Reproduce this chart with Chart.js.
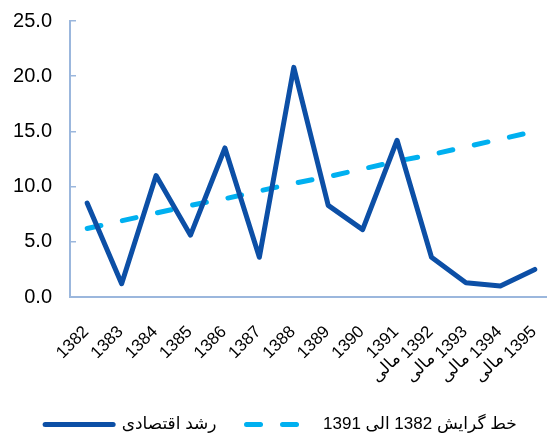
<!DOCTYPE html>
<html>
<head>
<meta charset="utf-8">
<script src="https://cdn.jsdelivr.net/npm/chart.js@4"></script>
<style>
  html, body { margin: 0; padding: 0; background: #fff; }
  #wrap { width: 547px; height: 435px; }
</style>
</head>
<body>
<div id="wrap"><canvas id="c" width="547" height="435"></canvas></div>
<script>
const categories = ['1382', '1383', '1384', '1385', '1386', '1387', '1388', '1389', '1390',
  ['1391', 'مالی'], ['1392', 'مالی'], ['1393', 'مالی'], ['1394', 'مالی'], '1395'];
const growthLabel = 'رشد اقتصادی';
const growthValues = [8.5, 1.2, 11.0, 5.6, 13.5, 3.6, 20.8, 8.3, 6.1, 14.2, 3.6, 1.3, 1.0, 2.5];
const trendLabel = 'خط گرایش 1382 الی 1391';
const trendValues = [6.2, 6.9, 7.6, 8.3, 8.9, 9.6, 10.3, 10.9, 11.6, 12.3, 12.9, 13.6, 14.3, 15.0];
const yTicks = [0, 5, 10, 15, 20, 25];

const FONT = "'Liberation Sans', Arial, 'DejaVu Sans', sans-serif";
const axisColor = '#9BB7DD';

// Let the plot area run slightly past the right edge (as in the original, cropped)
// and keep tick labels from being clipped by their scale boxes.
const layoutTweak = {
  id: 'layoutTweak',
  afterLayout(chart) {
    const xs = chart.scales.x, ys = chart.scales.y;
    xs.right = chart.width + 5;
    xs.width = xs.right - xs.left;
    xs.bottom = chart.height;
    xs.configure();
    chart.chartArea.right = xs.right;
    chart.chartArea.width = xs.right - chart.chartArea.left;
    ys.left = 0;
  }
};

new Chart(document.getElementById('c'), {
  type: 'line',
  data: {
    labels: categories,
    datasets: [
      {
        label: growthLabel,
        data: growthValues,
        borderColor: '#0C4FA6',
        backgroundColor: '#0C4FA6',
        borderWidth: 5,
        borderJoinStyle: 'round',
        borderCapStyle: 'round',
        pointRadius: 0,
        tension: 0,
        fill: false
      },
      {
        label: trendLabel,
        data: trendValues,
        borderColor: '#00B0F0',
        backgroundColor: '#00B0F0',
        borderWidth: 5,
        borderDash: [14, 22],
        borderCapStyle: 'round',
        pointRadius: 0,
        tension: 0,
        fill: false
      }
    ]
  },
  plugins: [layoutTweak],
  options: {
    responsive: false,
    animation: false,
    devicePixelRatio: 1,
    layout: { autoPadding: false, padding: { left: 15, right: 0, top: 21, bottom: -8 } },
    plugins: {
      tooltip: { enabled: false },
      legend: {
        position: 'bottom',
        labels: {
          usePointStyle: true,
          pointStyle: 'line',
          pointStyleWidth: 68,
          padding: 30,
          color: '#000',
          font: { family: FONT, size: 17 },
          generateLabels: (chart) => {
            const items = Chart.defaults.plugins.legend.labels.generateLabels(chart);
            items.forEach((it) => {
              const ds = chart.data.datasets[it.datasetIndex];
              it.lineDash = ds.borderDash || [];
              it.lineCap = 'round';
              it.lineWidth = ds.borderWidth;
              it.strokeStyle = ds.borderColor;
              it.fillStyle = ds.borderColor;
            });
            return items;
          }
        }
      }
    },
    scales: {
      x: {
        offset: true,
        grid: { display: false },
        border: { display: true, color: axisColor, width: 2 },
        afterFit: (s) => { s.height = 89; s.paddingLeft = 0; s.paddingRight = 0; },
        ticks: {
          autoSkip: false,
          minRotation: 45,
          maxRotation: 45,
          padding: 17,
          labelOffset: -1,
          color: '#000',
          font: { family: FONT, size: 17, lineHeight: 1.19 },
          callback: function (v, i) {
            const l = categories[i];
            return Array.isArray(l) ? [l[0], l[1] + '\u0020\u0020\u0020\u2009'] : l;
          }
        }
      },
      y: {
        min: yTicks[0],
        max: yTicks[yTicks.length - 1],
        afterBuildTicks: (s) => { s.ticks = yTicks.map(v => ({ value: v })); },
        afterFit: (s) => { s.width = 55; s.paddingTop = 0; s.paddingBottom = 0; },
        grid: { display: true, drawOnChartArea: false, drawTicks: true, tickLength: -6, color: axisColor, lineWidth: 1.5 },
        border: { display: true, color: axisColor, width: 2 },
        ticks: {
          padding: 24,
          color: '#000',
          font: { family: FONT, size: 20 },
          callback: (v) => Number(v).toFixed(1)
        }
      }
    }
  }
});
</script>
</body>
</html>
